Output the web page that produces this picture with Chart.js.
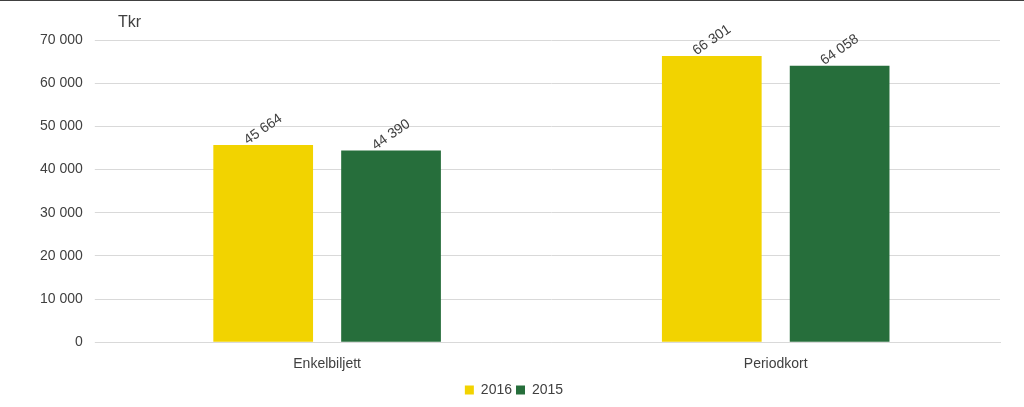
<!DOCTYPE html>
<html>
<head>
<meta charset="utf-8">
<script src="https://cdn.jsdelivr.net/npm/chart.js@4"></script>
<style>
  html, body { margin: 0; padding: 0; background: #fff; }
  #wrap { width: 1024px; height: 406px; border-top: 1px solid #404040; }
</style>
</head>
<body>
<div id="wrap"><canvas id="c" width="1024" height="406"></canvas></div>
<script>
const categories = ['Enkelbiljett', 'Periodkort'];
const values2016 = [45664, 66301];
const values2015 = [44390, 64058];
const yTicks = [0, 10000, 20000, 30000, 40000, 50000, 60000, 70000];

const fmt = v => String(v).replace(/\B(?=(\d{3})+(?!\d))/g, ' ');

const labelPlugin = {
  id: 'labels',
  afterDatasetsDraw(chart) {
    const ctx = chart.ctx;
    ctx.save();
    ctx.fillStyle = '#404040';
    ctx.font = "14px 'Liberation Sans', Arial, sans-serif";
    chart.data.datasets.forEach((ds, i) => {
      chart.getDatasetMeta(i).data.forEach((bar, j) => {
        ctx.save();
        ctx.translate(bar.x + 4, bar.y - 10);
        ctx.rotate(-Math.PI / 5.2);
        ctx.textAlign = 'center';
        ctx.textBaseline = 'bottom';
        ctx.fillText(fmt(ds.data[j]), 0, 0);
        ctx.restore();
      });
    });
    ctx.font = "16px 'Liberation Sans', Arial, sans-serif";
    ctx.textAlign = 'left';
    ctx.textBaseline = 'middle';
    ctx.fillText('Tkr', 118, 22);
    ctx.restore();
  }
};

new Chart(document.getElementById('c'), {
  type: 'bar',
  data: {
    labels: categories,
    datasets: [
      { label: '2016', data: values2016, backgroundColor: '#f2d300' },
      { label: '2015', data: values2015, backgroundColor: '#266e3b' }
    ]
  },
  options: {
    responsive: false,
    animation: false,
    layout: { padding: { top: 39, right: 24, left: 28, bottom: 0 } },
    datasets: { bar: { barPercentage: 0.78, categoryPercentage: 0.57 } },
    plugins: {
      tooltip: { enabled: false },
      legend: {
        position: 'bottom',
        labels: {
          color: '#404040', boxWidth: 9, boxHeight: 9, padding: 4,
          font: { size: 14, family: "'Liberation Sans', Arial, sans-serif" }
        }
      }
    },
    scales: {
      x: {
        grid: { display: false },
        border: { color: '#d9d9d9' },
        ticks: { color: '#404040', padding: 6, font: { size: 14, family: "'Liberation Sans', Arial, sans-serif" } }
      },
      y: {
        min: 0, max: 70000,
        afterBuildTicks: s => { s.ticks = yTicks.map(v => ({ value: v })); },
        grid: { color: '#d9d9d9' },
        border: { display: false },
        ticks: {
          color: '#404040', padding: 12,
          font: { size: 14, family: "'Liberation Sans', Arial, sans-serif" },
          callback: v => fmt(v)
        }
      }
    }
  },
  plugins: [labelPlugin]
});
</script>
</body>
</html>
